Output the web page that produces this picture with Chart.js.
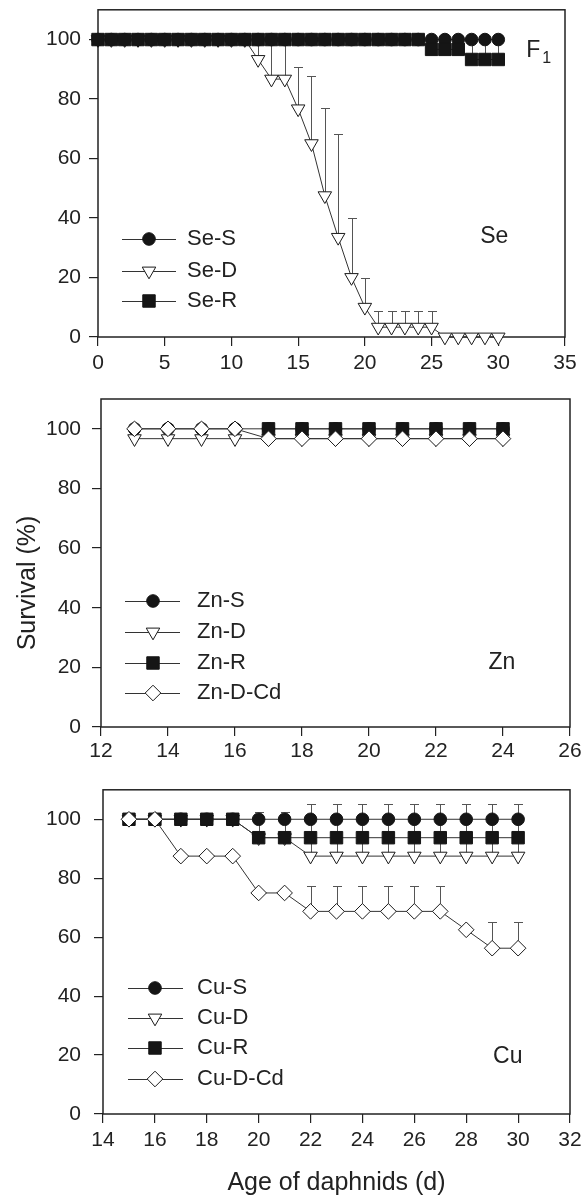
<!DOCTYPE html>
<html>
<head>
<meta charset="utf-8">
<script src="https://cdn.jsdelivr.net/npm/chart.js@4/dist/chart.umd.min.js"></script>
<style>
html,body{margin:0;padding:0;background:#fff;}
#wrap{position:relative;width:587px;height:1198px;overflow:hidden;}
canvas{position:absolute;left:0;}
</style>
</head>
<body>
<div id="wrap">
<canvas id="c1" width="587" height="380" style="top:0px;width:587px;height:380px"></canvas>
<canvas id="c2" width="587" height="400" style="top:380px;width:587px;height:400px"></canvas>
<canvas id="c3" width="587" height="418" style="top:780px;width:587px;height:418px"></canvas>
</div>
<script>
// ---------------- DATA ----------------
const yTicks = [0, 20, 40, 60, 80, 100];

// Se panel (F1)
const seDays = [0,1,2,3,4,5,6,7,8,9,10,11,12,13,14,15,16,17,18,19,20,21,22,23,24,25,26,27,28,29,30];
const seXTicks = [0,5,10,15,20,25,30,35];
const seS = [100,100,100,100,100,100,100,100,100,100,100,100,100,100,100,100,100,100,100,100,100,100,100,100,100,100,100,100,100,100,100];
const seD = [100,100,100,100,100,100,100,100,100,100,100,100,93.3,86.7,86.7,76.7,65,47.5,33.5,20,10,3.3,3.3,3.3,3.3,3.3,0,0,0,0,0];
const seDErr = [0,0,0,0,0,0,0,0,0,0,0,0,6.7,14,14,14,22.7,29.4,34.9,20,10,5.4,5.4,5.4,5.4,5.4,0,0,0,0,0];
const seR = [100,100,100,100,100,100,100,100,100,100,100,100,100,100,100,100,100,100,100,100,100,100,100,100,100,96.7,96.7,96.7,93.3,93.3,93.3];
const seRErr = [0,0,0,0,0,0,0,0,0,0,0,0,0,0,0,0,0,0,0,0,0,0,0,0,0,3.3,3.3,3.3,6.7,6.7,6.7];

// Zn panel
const znDays = [13,14,15,16,17,18,19,20,21,22,23,24];
const znXTicks = [12,14,16,18,20,22,24,26];
const znS = [100,100,100,100,100,100,100,100,100,100,100,100];
const znD = [96.7,96.7,96.7,96.7,96.7,96.7,96.7,96.7,96.7,96.7,96.7,96.7];
const znR = [null,null,null,null,100,100,100,100,100,100,100,100];
const znDCd = [100,100,100,100,96.7,96.7,96.7,96.7,96.7,96.7,96.7,96.7];

// Cu panel
const cuDays = [15,16,17,18,19,20,21,22,23,24,25,26,27,28,29,30];
const cuXTicks = [14,16,18,20,22,24,26,28,30,32];
const cuS = [100,100,100,100,100,100,100,100,100,100,100,100,100,100,100,100];
const cuD = [100,100,100,100,100,93.75,93.75,87.5,87.5,87.5,87.5,87.5,87.5,87.5,87.5,87.5];
const cuDErr = [0,0,0,0,0,0,0,17.7,17.7,17.7,17.7,17.7,17.7,17.7,17.7,17.7];
const cuR = [100,100,100,100,100,93.75,93.75,93.75,93.75,93.75,93.75,93.75,93.75,93.75,93.75,93.75];
const cuRErr = [0,0,0,0,0,8.8,8.8,0,0,0,0,0,0,0,0,0];
const cuDCd = [100,100,87.5,87.5,87.5,75,75,68.75,68.75,68.75,68.75,68.75,68.75,62.5,56.25,56.25];
const cuDCdErr = [0,0,0,0,0,0,0,8.75,8.75,8.75,8.75,8.75,8.75,0,8.75,8.75];

// ---------------- STYLE ----------------
const FONT = "'Liberation Sans', Arial, sans-serif";
const TXT = '#222';
Chart.defaults.font.family = FONT;
Chart.defaults.color = TXT;

const MARK = {
  circle:   {pointStyle: 'circle',   pointRadius: 6.3, pointRotation: 0,   pointBackgroundColor: '#151515', pointBorderColor: '#151515'},
  triangle: {pointStyle: 'triangle', pointRadius: 7.8, pointRotation: 180, pointBackgroundColor: '#ffffff', pointBorderColor: '#1a1a1a'},
  square:   {pointStyle: 'rect',     pointRadius: 8.8, pointRotation: 0,   pointBackgroundColor: '#151515', pointBorderColor: '#151515'},
  diamond:  {pointStyle: 'rectRot',  pointRadius: 7.8, pointRotation: 0,   pointBackgroundColor: '#ffffff', pointBorderColor: '#1a1a1a'}
};

function series(label, xs, ys, err, mark, order) {
  return Object.assign({
    label: label,
    data: xs.map((x, i) => ({x: x, y: ys[i]})),
    errUp: err || null,
    borderColor: '#333',
    borderWidth: 1,
    pointBorderWidth: 1,
    pointHoverRadius: 0,
    tension: 0,
    fill: false,
    clip: false,
    order: order
  }, MARK[mark]);
}

function drawMarker(ctx, d, x, y) {
  const r = d.pointRadius, style = d.pointStyle;
  ctx.save();
  ctx.fillStyle = d.pointBackgroundColor;
  ctx.strokeStyle = d.pointBorderColor;
  ctx.lineWidth = 1;
  ctx.beginPath();
  if (style === 'circle') {
    ctx.arc(x, y, r, 0, Math.PI * 2);
  } else if (style === 'triangle') {
    let rad = (d.pointRotation || 0) * Math.PI / 180;
    ctx.moveTo(x + Math.sin(rad) * r, y - Math.cos(rad) * r);
    rad += 2 * Math.PI / 3;
    ctx.lineTo(x + Math.sin(rad) * r, y - Math.cos(rad) * r);
    rad += 2 * Math.PI / 3;
    ctx.lineTo(x + Math.sin(rad) * r, y - Math.cos(rad) * r);
  } else if (style === 'rect') {
    const s = Math.SQRT1_2 * r;
    ctx.rect(x - s, y - s, 2 * s, 2 * s);
  } else if (style === 'rectRot') {
    ctx.moveTo(x - r, y); ctx.lineTo(x, y - r); ctx.lineTo(x + r, y); ctx.lineTo(x, y + r);
  }
  ctx.closePath();
  ctx.fill();
  ctx.stroke();
  ctx.restore();
}

// frame + error bars (under the markers)
const frameErr = {
  id: 'frameErr',
  beforeDatasetsDraw(chart) {
    const ctx = chart.ctx, a = chart.chartArea, xs = chart.scales.x, ys = chart.scales.y;
    ctx.save();
    ctx.strokeStyle = '#222';
    ctx.lineWidth = 1.5;
    ctx.strokeRect(a.left, a.top, a.right - a.left, a.bottom - a.top);
    ctx.strokeStyle = '#555';
    ctx.lineWidth = 1;
    chart.data.datasets.forEach(d => {
      if (!d.errUp) return;
      d.data.forEach((p, i) => {
        const e = d.errUp[i];
        if (!e || p.y == null) return;
        const px = Math.round(xs.getPixelForValue(p.x)) + 0.5;
        const y0 = ys.getPixelForValue(p.y);
        const y1 = Math.round(ys.getPixelForValue(p.y + e)) + 0.5;
        ctx.beginPath();
        ctx.moveTo(px, y0); ctx.lineTo(px, y1);
        ctx.moveTo(px - 4.5, y1); ctx.lineTo(px + 4.5, y1);
        ctx.stroke();
      });
    });
    ctx.restore();
  }
};

// legend inside the plot + panel labels
const annot = {
  id: 'annot',
  afterDraw(chart, args, opts) {
    const ctx = chart.ctx;
    const L = opts.legend;
    ctx.save();
    ctx.textBaseline = 'middle';
    ctx.textAlign = 'left';
    ctx.fillStyle = TXT;
    ctx.font = L.size + 'px ' + FONT;
    chart.data.datasets.forEach((d, i) => {
      const yy = L.rows[i];
      ctx.strokeStyle = '#333';
      ctx.lineWidth = 1;
      ctx.beginPath();
      ctx.moveTo(L.x1, Math.round(yy) + 0.5);
      ctx.lineTo(L.x2, Math.round(yy) + 0.5);
      ctx.stroke();
      drawMarker(ctx, d, L.mx, yy);
      ctx.fillStyle = TXT;
      ctx.fillText(d.label, L.tx, yy);
    });
    (opts.labels || []).forEach(l => {
      const px = chart.scales.x.getPixelForValue(l.x);
      const py = chart.scales.y.getPixelForValue(l.y);
      ctx.font = l.size + 'px ' + FONT;
      ctx.textAlign = l.align || 'center';
      ctx.fillText(l.text, px, py);
      if (l.sub) {
        const w = ctx.measureText(l.text).width;
        ctx.font = l.subSize + 'px ' + FONT;
        ctx.textAlign = 'left';
        ctx.fillText(l.sub, px + w + 2, py + l.subDy);
      }
    });
    if (opts.ytitle) {
      const t = opts.ytitle;
      ctx.save();
      ctx.translate(t.x, t.y);
      ctx.rotate(-Math.PI / 2);
      ctx.font = t.size + 'px ' + FONT;
      ctx.textAlign = 'center';
      ctx.fillText(t.text, 0, 0);
      ctx.restore();
    }
    ctx.restore();
  }
};

function makeChart(id, cfg) {
  const tickFont = {family: FONT, size: 21};
  new Chart(document.getElementById(id), {
    type: 'line',
    data: {datasets: cfg.datasets},
    plugins: [frameErr, annot],
    options: {
      responsive: false,
      animation: false,
      events: [],
      layout: {padding: cfg.padding},
      scales: {
        x: {
          type: 'linear',
          min: cfg.xmin, max: cfg.xmax,
          border: {display: false},
          grid: {drawOnChartArea: false, drawTicks: true, tickLength: 9, color: '#222', lineWidth: 1.2},
          ticks: {font: tickFont, color: TXT, padding: cfg.xPad, maxRotation: 0, autoSkip: false},
          afterBuildTicks: s => { s.ticks = cfg.xTicks.map(v => ({value: v})); },
          title: cfg.xTitle ? {display: true, text: cfg.xTitle, font: {family: FONT, size: 25}, color: TXT, padding: {top: 0, bottom: 0}} : {display: false},
          afterFit: s => { s.height = cfg.xHeight; s.paddingLeft = 0; s.paddingRight = 0; s.paddingTop = 0; s.paddingBottom = 0; }
        },
        y: {
          type: 'linear',
          min: 0, max: 110,
          border: {display: false},
          grid: {drawOnChartArea: false, drawTicks: true, tickLength: 9, color: '#222', lineWidth: 1.2},
          ticks: {font: tickFont, color: TXT, padding: cfg.yPad},
          afterBuildTicks: s => { s.ticks = yTicks.map(v => ({value: v})); },
          afterFit: s => { s.width = cfg.yWidth; s.paddingLeft = 0; s.paddingRight = 0; s.paddingTop = 0; s.paddingBottom = 0; }
        }
      },
      plugins: {
        legend: {display: false},
        tooltip: {enabled: false},
        annot: cfg.annot
      }
    }
  });
}

// Panel 1: Se
makeChart('c1', {
  datasets: [
    series('Se-S', seDays, seS, null, 'circle', 1),
    series('Se-D', seDays, seD, seDErr, 'triangle', 2),
    series('Se-R', seDays, seR, seRErr, 'square', 0)
  ],
  padding: {left: 0, right: 22, top: 9, bottom: 0},
  xmin: 0, xmax: 35, xTicks: seXTicks,
  yWidth: 98, xHeight: 43, yPad: 8, xPad: 5,
  annot: {
    legend: {x1: 122, x2: 176, mx: 149, tx: 187, rows: [239, 271, 301], size: 22},
    labels: [
      {text: 'Se', x: 29.7, y: 33.9, size: 23},
      {text: 'F', x: 32.1, y: 96.4, size: 23, align: 'left', sub: '1', subSize: 16, subDy: 8}
    ]
  }
});

// Panel 2: Zn
makeChart('c2', {
  datasets: [
    series('Zn-S', znDays, znS, null, 'circle', 2),
    series('Zn-D', znDays, znD, null, 'triangle', 3),
    series('Zn-R', znDays, znR, null, 'square', 1),
    series('Zn-D-Cd', znDays, znDCd, null, 'diamond', 0)
  ],
  padding: {left: 0, right: 17, top: 19, bottom: 0},
  xmin: 12, xmax: 26, xTicks: znXTicks,
  yWidth: 101, xHeight: 53, yPad: 11, xPad: 3,
  annot: {
    legend: {x1: 125, x2: 180, mx: 153, tx: 197, rows: [221, 252, 283, 313], size: 22},
    labels: [
      {text: 'Zn', x: 23.97, y: 21.6, size: 23}
    ],
    ytitle: {text: 'Survival (%)', x: 28, y: 203, size: 25}
  }
});

// Panel 3: Cu
makeChart('c3', {
  datasets: [
    series('Cu-S', cuDays, cuS, null, 'circle', 2),
    series('Cu-D', cuDays, cuD, cuDErr, 'triangle', 3),
    series('Cu-R', cuDays, cuR, cuRErr, 'square', 1),
    series('Cu-D-Cd', cuDays, cuDCd, cuDCdErr, 'diamond', 0)
  ],
  padding: {left: 0, right: 17, top: 7, bottom: 0},
  xmin: 14, xmax: 32, xTicks: cuXTicks, xTitle: 'Age of daphnids (d)',
  yWidth: 103, xHeight: 84, yPad: 13, xPad: 5,
  annot: {
    legend: {x1: 128, x2: 183, mx: 155, tx: 197, rows: [208, 238, 268, 299], size: 22},
    labels: [
      {text: 'Cu', x: 29.6, y: 19.5, size: 23}
    ]
  }
});
</script>
</body>
</html>
